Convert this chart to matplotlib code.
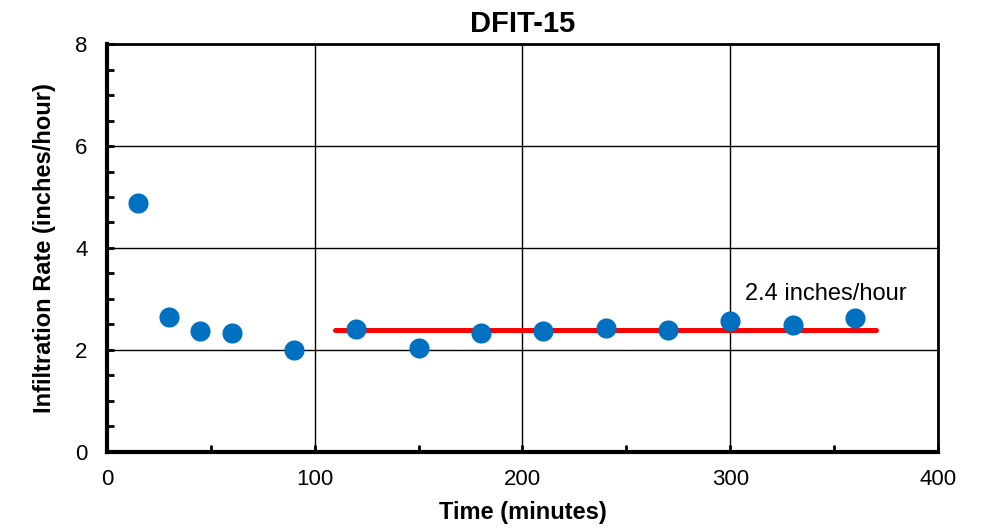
import matplotlib.pyplot as plt
from matplotlib.ticker import MultipleLocator

plt.rcParams['font.family'] = ['Liberation Sans', 'DejaVu Sans']

time_min = [15, 30, 45, 60, 90, 120, 150, 180, 210, 240, 270, 300, 330, 360]
rate = [4.88, 2.65, 2.37, 2.33, 1.99, 2.41, 2.04, 2.33, 2.37, 2.44, 2.39, 2.56, 2.49, 2.63]
fit_x = [110, 370]
fit_y = [2.4, 2.4]

fig = plt.figure(figsize=(9.99, 5.29), dpi=100)
ax = fig.add_axes([0.107, 0.1456, 0.832, 0.7712])

ax.grid(True, color='black', linewidth=1.0)
ax.set_axisbelow(True)
ax.plot(fit_x, fit_y, color='#FF0000', linewidth=3.6, solid_capstyle='round', zorder=3)
ax.scatter(time_min, rate, s=210, color='#0070C0', zorder=4, linewidths=0)
ax.text(307, 2.88, '2.4 inches/hour', fontsize=17, ha='left', va='bottom')

ax.set_xlim(0, 400)
ax.set_ylim(0, 8)
ax.xaxis.set_major_locator(MultipleLocator(100))
ax.xaxis.set_minor_locator(MultipleLocator(50))
ax.yaxis.set_major_locator(MultipleLocator(2))
ax.yaxis.set_minor_locator(MultipleLocator(0.5))
ax.tick_params(which='both', direction='in', labelsize=16, width=2)
ax.tick_params(which='major', length=5)
ax.tick_params(axis='x', which='major', pad=12)
ax.tick_params(axis='y', which='major', pad=14)
ax.tick_params(which='minor', length=5)

for side in ['left', 'bottom']:
    ax.spines[side].set_linewidth(3)
for side in ['top', 'right']:
    ax.spines[side].set_linewidth(2)

ax.set_title('DFIT-15', fontsize=21, fontweight='bold', pad=9)
ax.set_xlabel('Time (minutes)', fontsize=17, fontweight='bold', labelpad=8)
ax.set_ylabel('Infiltration Rate (inches/hour)', fontsize=17, fontweight='bold', labelpad=14)

fig.savefig('out.png', dpi=100)
